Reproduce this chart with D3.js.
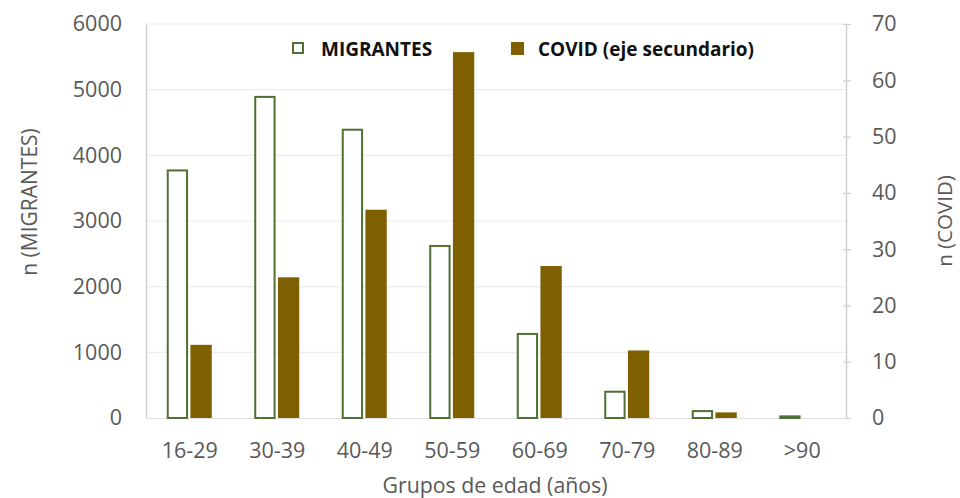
<!DOCTYPE html>
<html><head><meta charset="utf-8">
<script src="https://cdn.jsdelivr.net/npm/d3@7"></script>
<style>body{margin:0;background:#fff}svg{display:block}text{font-family:"Open Sans",sans-serif}</style>
</head><body><svg id="c" width="960" height="498"></svg>
<script>
const categories = ["16-29","30-39","40-49","50-59","60-69","70-79","80-89",">90"];
const migrantes = [3770, 4890, 4390, 2620, 1280, 400, 105, 25];
const covid = [13, 25, 37, 65, 27, 12, 1, 0];
const leftTicks = [0,1000,2000,3000,4000,5000,6000];
const rightTicks = [0,10,20,30,40,50,60,70];

const svg = d3.select("#c");
const L = 146, R = 846, T = 24, B = 418;
const x = d3.scaleBand().domain(categories).range([L, R]);
const yL = d3.scaleLinear().domain([0, 6000]).range([B, T]);
const yR = d3.scaleLinear().domain([0, 70]).range([B, T]);
const inner = d3.scaleBand().domain(["m","c"]).range([-23, 22]).paddingInner(0.1);
const FS = 21.5;

// gridlines
svg.append("g").selectAll("line").data(leftTicks.slice(1)).join("line")
  .attr("x1", L).attr("x2", R).attr("y1", d=>yL(d)).attr("y2", d=>yL(d))
  .attr("stroke", "#ececec").attr("stroke-width", 1.2);

// left axis
const gl = svg.append("g").attr("transform", `translate(${L},0)`)
  .call(d3.axisLeft(yL).tickValues(leftTicks).tickSize(0).tickPadding(24).tickFormat(d3.format("d")));
gl.select(".domain").attr("stroke", "#d0d0d0").attr("stroke-width", 1.5);
gl.selectAll("text").attr("font-size", FS).attr("fill", "#595959").style("font-family", '"Open Sans",sans-serif');

// right axis
const gr = svg.append("g").attr("transform", `translate(${R},0)`)
  .call(d3.axisRight(yR).tickValues(rightTicks).tickSizeInner(5).tickSizeOuter(0).tickPadding(21));
gr.select(".domain").attr("stroke", "#d0d0d0").attr("stroke-width", 1.5);
gr.selectAll(".tick line").attr("x1", -3).attr("stroke", "#d0d0d0").attr("stroke-width", 1.2);
gr.selectAll("text").attr("font-size", FS).attr("fill", "#595959").style("font-family", '"Open Sans",sans-serif');

// bottom axis
const gb = svg.append("g").attr("transform", `translate(0,${B})`)
  .call(d3.axisBottom(x).tickSize(0).tickPadding(25));
gb.select(".domain").attr("stroke", "#e0e0e0").attr("stroke-width", 1.2);
gb.selectAll("text").attr("font-size", FS).attr("fill", "#595959").style("font-family", '"Open Sans",sans-serif');

// bars
const cx = c => x(c) + x.bandwidth()/2;
svg.append("g").selectAll("rect").data(categories).join("rect")
  .attr("x", (c)=>cx(c)+inner("m")+1)
  .attr("y", (c,i)=>yL(migrantes[i]))
  .attr("width", inner.bandwidth()-2)
  .attr("height", (c,i)=>B - yL(migrantes[i]))
  .attr("fill", "#fff").attr("stroke", "#4f7032").attr("stroke-width", 2);
svg.append("g").selectAll("rect").data(categories).join("rect")
  .attr("x", (c)=>cx(c)+inner("c"))
  .attr("y", (c,i)=>yR(covid[i]))
  .attr("width", inner.bandwidth())
  .attr("height", (c,i)=>B - yR(covid[i]))
  .attr("fill", "#7f6000");

// legend
const lg = svg.append("g");
lg.append("rect").attr("x", 293).attr("y", 43).attr("width", 10).attr("height", 10)
  .attr("fill", "#fff").attr("stroke", "#4f7032").attr("stroke-width", 2);
lg.append("text").attr("x", 321).attr("y", 56).attr("font-size", 19).attr("font-weight", "bold")
  .attr("fill", "#111").text("MIGRANTES");
lg.append("rect").attr("x", 511).attr("y", 42).attr("width", 13).attr("height", 13).attr("fill", "#7f6000");
lg.append("text").attr("x", 538).attr("y", 56).attr("font-size", 19).attr("font-weight", "bold")
  .attr("fill", "#111").text("COVID (eje secundario)");

// axis titles
svg.append("text").attr("transform", "translate(37,202) rotate(-90)").attr("text-anchor", "middle")
  .attr("font-size", 21).attr("fill", "#595959").text("n (MIGRANTES)");
svg.append("text").attr("transform", "translate(952,221) rotate(-90)").attr("text-anchor", "middle")
  .attr("font-size", 20.5).attr("fill", "#595959").text("n (COVID)");
svg.append("text").attr("x", 495).attr("y", 493).attr("text-anchor", "middle")
  .attr("font-size", 21.3).attr("fill", "#595959").text("Grupos de edad (años)");
</script></body></html>
